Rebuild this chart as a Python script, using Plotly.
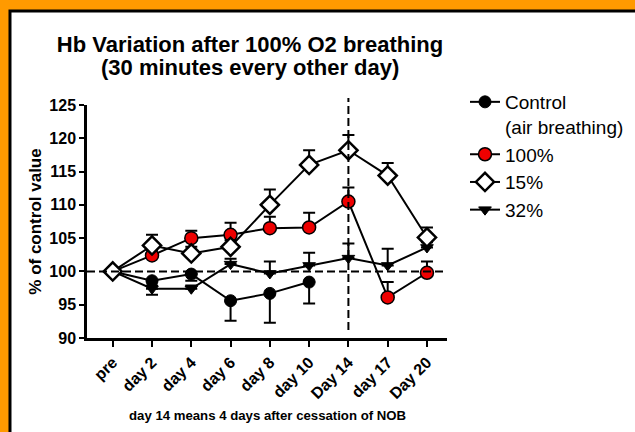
import plotly.graph_objects as go

categories = ["pre", "day 2", "day 4", "day 6", "day 8", "day 10", "Day 14", "day 17", "Day 20"]

control = [100, 98.6, 99.6, 95.6, 96.7, 98.4, None, None, None]
control_err_low = [0, 2.1, 1.0, 3.0, 4.4, 3.2, None, None, None]

o2_100 = [100, 102.4, 105.0, 105.5, 106.5, 106.6, 110.5, 96.1, 99.8]
o2_100_err_up = [0, 0.8, 1.1, 1.8, 1.7, 2.2, 2.1, 2.3, 1.7]

o2_15 = [100, 103.9, 102.7, 103.7, 110.0, 116.0, 118.2, 114.4, 105.1]
o2_15_err_up = [0, 1.6, 1.0, 1.0, 2.3, 2.2, 2.3, 1.9, 1.5]

o2_32 = [100, 97.4, 97.4, 101.1, 99.7, 100.9, 102.0, 100.9, 103.6]
o2_32_err_up = [0, 0.5, 0.5, 0.8, 1.8, 1.9, 2.2, 2.5, 0.8]

title_line1 = "Hb Variation after 100% O2 breathing"
title_line2 = "(30 minutes every other day)"
y_title = "% of control value"
x_caption = "day 14 means 4 days after cessation of NOB"

FONT = "Liberation Sans, Arial, sans-serif"
W, H = 635, 432
fig = go.Figure()


def add(name, y, err, up, symbol, fill, size, lw, rank):
    zeros = [0 if v is not None else None for v in err]
    fig.add_trace(go.Scatter(
        x=categories, y=y, name=name, mode="lines+markers",
        line=dict(color="black", width=2),
        marker=dict(symbol=symbol, size=size, color=fill, line=dict(color="black", width=lw)),
        error_y=dict(type="data", symmetric=False,
                     array=err if up else zeros,
                     arrayminus=zeros if up else err,
                     color="black", thickness=2, width=6),
        legendrank=rank,
    ))


add("Control<br>(air breathing)", control, control_err_low, False, "circle", "black", 12, 1, 1)
add("32%", o2_32, o2_32_err_up, True, "triangle-down", "black", 11, 1, 4)
add("100%", o2_100, o2_100_err_up, True, "circle", "#EE0000", 13, 1.5, 2)
add("15%", o2_15, o2_15_err_up, True, "diamond", "white", 14, 2.5, 3)

shapes = [
    # white panel with black border
    dict(type="rect", xref="paper", yref="paper", x0=-0.2139, x1=1.54, y0=-0.44, y1=1.4034,
         fillcolor="white", line=dict(color="black", width=3), layer="below"),
    # horizontal dashed line at 100
    dict(type="line", xref="paper", yref="y", x0=0, x1=1, y0=100, y1=100,
         line=dict(color="black", width=2, dash="8px,4px")),
    # vertical dashed line at Day 14
    dict(type="line", xref="x", yref="paper", x0=categories[6], x1=categories[6], y0=0.034, y1=1.03,
         line=dict(color="black", width=2, dash="8px,4px")),
]

fig.update_layout(
    width=W, height=H,
    margin=dict(l=87, r=188, t=105, b=94, autoexpand=False),
    paper_bgcolor="#FF9A00",
    plot_bgcolor="rgba(0,0,0,0)",
    shapes=shapes,
    showlegend=True,
    title=dict(text="<b>" + title_line1 + "</b>",
               x=250 / W, xref="container", xanchor="center", y=1 - 44 / H, yref="container",
               yanchor="middle", font=dict(family=FONT, size=22, color="black")),
    legend=dict(x=465 / W, y=1 - 83 / H, xref="container", yref="container",
                xanchor="left", yanchor="top", bgcolor="rgba(0,0,0,0)",
                font=dict(family=FONT, size=19, color="black"), valign="top",
                itemwidth=30),
    xaxis=dict(type="category", range=[-0.655, 8.51], showgrid=False, zeroline=False,
               showline=True, linecolor="black", linewidth=2.5, automargin=False,
               ticks="outside", ticklen=6, tickwidth=2, tickcolor="black",
               tickangle=-45, tickfont=dict(family=FONT, size=16, color="black", weight="bold")),
    yaxis=dict(range=[90, 125], tickvals=[90, 95, 100, 105, 110, 115, 120, 125],
               showgrid=False, zeroline=False, showline=True, linecolor="black", linewidth=2.5,
               automargin=False,
               ticks="outside", ticklen=5, tickwidth=2, tickcolor="black",
               tickfont=dict(family=FONT, size=16, color="black", weight="bold"),
               title=dict(text="<b>" + y_title + "</b>", standoff=4,
                          font=dict(family=FONT, size=17, color="black"))),
    annotations=[
        dict(text="<b>" + title_line2 + "</b>", xref="paper", yref="paper",
             x=(250 - 87) / 360, y=(338 - 68) / 233, xanchor="center", yanchor="middle",
             showarrow=False, font=dict(family=FONT, size=22, color="black")),
        dict(text="<b>" + x_caption + "</b>", xref="paper", yref="paper",
             x=0.5, y=(338 - 415) / 233, xanchor="center", yanchor="middle",
             showarrow=False, font=dict(family=FONT, size=13.2, color="black")),
    ],
)

fig.write_html("out.html", config={"displayModeBar": False},
               post_script="document.body.style.margin='0';document.body.style.background='#FF9A00';")
